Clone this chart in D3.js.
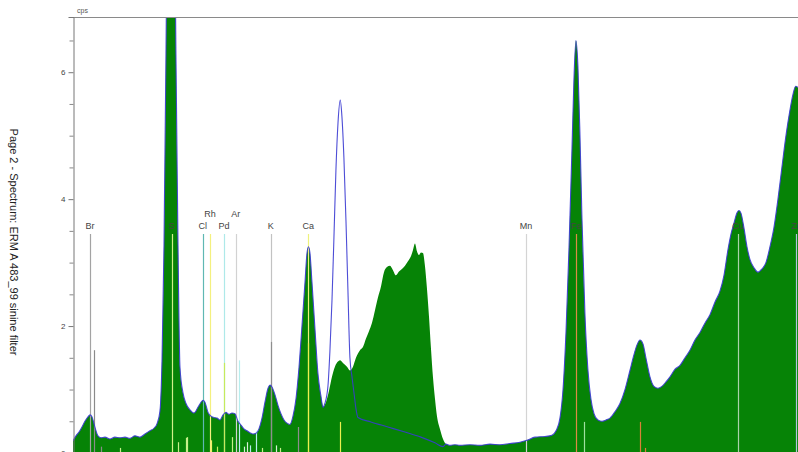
<!DOCTYPE html>
<html>
<head>
<meta charset="utf-8">
<script src="https://cdn.jsdelivr.net/npm/d3@7"></script>
<style>
  html, body { margin: 0; padding: 0; background: #fff; }
  svg { display: block; }
</style>
</head>
<body>
<svg id="chart" width="798" height="452"></svg>
<script>
// ---- spectrum data (energy in keV, intensity in cps) ----
const energy = [
  1.308, 1.338, 1.369, 1.399, 1.429, 1.460, 1.480, 1.500, 1.521, 1.541, 1.561, 1.591, 1.632, 1.683, 1.733,
  1.784, 1.835, 1.885, 1.936, 1.987, 2.037, 2.088, 2.128, 2.159, 2.189, 2.210, 2.230, 2.250, 2.270, 2.301,
  2.331, 2.351, 2.372, 2.392, 2.422, 2.453, 2.493, 2.534, 2.574, 2.605, 2.625, 2.645, 2.676, 2.706, 2.736,
  2.767, 2.797, 2.828, 2.858, 2.888, 2.919, 2.949, 2.980, 3.010, 3.040, 3.071, 3.101, 3.132, 3.162, 3.192,
  3.223, 3.253, 3.284, 3.304, 3.324, 3.354, 3.385, 3.415, 3.446, 3.476, 3.506, 3.537, 3.567, 3.598, 3.628,
  3.659, 3.679, 3.694, 3.709, 3.729, 3.760, 3.790, 3.820, 3.846, 3.871, 3.902, 3.932, 3.962, 3.993, 4.013,
  4.043, 4.084, 4.114, 4.145, 4.175, 4.216, 4.246, 4.276, 4.307, 4.337, 4.368, 4.398, 4.428, 4.459, 4.489,
  4.520, 4.550, 4.580, 4.611, 4.641, 4.672, 4.702, 4.732, 4.753, 4.773, 4.793, 4.813, 4.834, 4.854, 4.874,
  4.894, 4.915, 4.935, 4.955, 4.976, 4.996, 5.026, 5.057, 5.087, 5.128, 5.178, 5.229, 5.330, 5.431, 5.533,
  5.634, 5.735, 5.837, 5.908, 5.989, 6.091, 6.161, 6.202, 6.242, 6.273, 6.303, 6.333, 6.364, 6.384, 6.404,
  6.424, 6.445, 6.465, 6.495, 6.526, 6.556, 6.587, 6.627, 6.668, 6.708, 6.749, 6.799, 6.850, 6.901, 6.951,
  6.992, 7.022, 7.053, 7.083, 7.113, 7.154, 7.194, 7.235, 7.275, 7.316, 7.357, 7.408, 7.458, 7.509, 7.559,
  7.610, 7.661, 7.712, 7.762, 7.813, 7.863, 7.904, 7.944, 7.975, 8.005, 8.035, 8.056, 8.076, 8.106, 8.137,
  8.167, 8.208, 8.248, 8.289, 8.329, 8.370, 8.410, 8.451, 8.491, 8.532, 8.572, 8.603, 8.630, 8.654
];
const counts = [
  0.19, 0.27, 0.33, 0.41, 0.50, 0.57, 0.60, 0.57, 0.46, 0.35, 0.27, 0.24, 0.25, 0.22, 0.25,
  0.24, 0.25, 0.23, 0.27, 0.25, 0.30, 0.35, 0.39, 0.46, 0.66, 1.47, 3.27, 6.28, 9.84, 12.70,
  9.84, 6.28, 3.27, 1.35, 0.95, 0.78, 0.68, 0.63, 0.72, 0.80, 0.83, 0.80, 0.64, 0.58, 0.56,
  0.55, 0.52, 0.60, 0.64, 0.61, 0.63, 0.62, 0.50, 0.44, 0.38, 0.35, 0.32, 0.30, 0.31, 0.38,
  0.55, 0.80, 1.02, 1.07, 1.04, 0.92, 0.75, 0.62, 0.52, 0.47, 0.45, 0.58, 0.85, 1.35, 2.00,
  2.70, 3.15, 3.25, 3.15, 2.70, 1.95, 1.25, 0.90, 0.73, 0.80, 0.98, 1.20, 1.36, 1.44, 1.46,
  1.42, 1.36, 1.30, 1.36, 1.50, 1.62, 1.67, 1.80, 1.92, 2.05, 2.25, 2.45, 2.62, 2.85, 2.93,
  2.95, 2.88, 2.80, 2.86, 2.90, 2.95, 3.02, 3.10, 3.20, 3.30, 3.18, 3.12, 3.16, 3.15, 2.95,
  2.60, 2.15, 1.65, 1.20, 0.85, 0.58, 0.38, 0.22, 0.14, 0.12, 0.13, 0.12, 0.13, 0.12, 0.14,
  0.13, 0.15, 0.17, 0.20, 0.25, 0.26, 0.28, 0.35, 0.55, 1.00, 1.90, 3.20, 4.80, 5.90, 6.50,
  6.10, 5.00, 3.70, 2.20, 1.30, 0.85, 0.62, 0.52, 0.50, 0.52, 0.55, 0.65, 0.78, 1.00, 1.30,
  1.55, 1.70, 1.78, 1.72, 1.50, 1.20, 1.05, 1.02, 1.05, 1.12, 1.20, 1.32, 1.38, 1.50, 1.62,
  1.78, 1.90, 2.05, 2.18, 2.38, 2.55, 2.80, 3.20, 3.45, 3.62, 3.78, 3.82, 3.78, 3.55, 3.25,
  3.05, 2.92, 2.85, 2.90, 3.00, 3.25, 3.55, 4.00, 4.50, 5.00, 5.40, 5.65, 5.78, 5.76
];

// overlay spectrum: only the stretch where it departs from the filled one
const overlayEnergy = [
  3.820, 3.840, 3.860, 3.891, 3.911, 3.932, 3.952, 3.972, 3.993, 4.016, 4.033, 4.053, 4.074, 4.094,
  4.114, 4.135, 4.155, 4.175, 4.195, 4.327, 4.499, 4.671, 4.833, 4.975, 5.057
];
const overlayCounts = [
  0.90, 0.72, 0.78, 1.05, 1.60, 2.40, 3.40, 4.45, 5.20, 5.56, 5.30, 4.65, 3.65, 2.55,
  1.50, 1.20, 0.95, 0.70, 0.56, 0.49, 0.41, 0.33, 0.25, 0.16, 0.10
];

// element markers
const elements = ["Br", "S", "Cl", "Rh", "Pd", "Ar", "K", "Ca", "Mn", "Fe", "Cu", "Zn"];
const elementEnergy = [1.480, 2.307, 2.622, 2.697, 2.838, 2.957, 3.313, 3.691, 5.899, 6.404, 8.047, 8.638];

// emission-line sticks: energy, relative intensity (cps), parent element
const stickEnergy = [1.525, 1.591, 1.784, 2.372, 2.453, 2.464, 2.706, 2.767, 2.838, 2.919, 2.990,
  3.040, 3.071, 3.101, 3.162, 3.223, 3.313, 3.364, 3.405, 3.589, 3.691, 4.013, 6.490, 7.058, 7.100];
const stickCounts = [1.62, 0.10, 0.08, 0.17, 0.24, 0.25, 0.20, 0.10, 1.42, 0.25, 1.46,
  0.10, 0.17, 0.12, 0.35, 0.08, 1.75, 0.12, 0.08, 0.41, 1.73, 0.49, 0.49, 0.49, 0.08];
const stickElement = ["Br", "Br", "S", "S", "S", "S", "Rh", "Pd", "Pd", "S", "PdL",
  "Ar", "Ar", "PdL", "PdL", "S", "K", "Ar", "S", "K", "Ca", "Ca", "Mn", "Fe", "Fe"];

const yTicks = [0, 2, 4, 6];
const yMinorTicks = [0.5, 1, 1.5, 2.5, 3, 3.5, 4.5, 5, 5.5, 6.5];
const unitLabel = "cps";
const pageTitle = "Page 2 - Spectrum: ERM A 483_99 sinine filter";

// ---- styling ----
const markerColor = {
  Br: "#a3a3a3", S: "#d2f08a", Cl: "#5fb8b2", Rh: "#f4f07e", Pd: "#aee9e9", Ar: "#d2d2d2",
  K: "#c2c2c2", Ca: "#eef27c", Mn: "#d4d4d4", Fe: "#dd8a45", Cu: "#a9d3a9", Zn: "#b4c4de"
};
const stickColor = {
  Br: "#8a8a8a", S: "#c6f08a", Rh: "#f2ee6a", Pd: "#c6ea5c", PdL: "#b6eeee", Ar: "#d8f0d8",
  K: "#8e8e8e", Ca: "#ecf04e", Mn: "#9fe09f", Fe: "#d98038"
};
const fillGreen = "#068306";
const overlayBlue = "#3a3ad2";

const svg = d3.select("#chart");
const plot = { left: 73, right: 798, top: 17, bottom: 453 };

const x = d3.scaleLinear().domain([1.308, 8.654]).range([plot.left, plot.right]);
const y = d3.scaleLinear().domain([0, 6.87]).range([plot.bottom, plot.top]);

svg.append("defs").append("clipPath").attr("id", "plotClip")
  .append("rect")
  .attr("x", plot.left).attr("y", plot.top)
  .attr("width", plot.right - plot.left).attr("height", plot.bottom - plot.top);

const sample = energy.map((e, i) => ({ e, c: counts[i] }));
const overlayStart = overlayEnergy[0], overlayEnd = overlayEnergy[overlayEnergy.length - 1];
const overlay = sample.filter(d => d.e < overlayStart)
  .concat(overlayEnergy.map((e, i) => ({ e, c: overlayCounts[i] })))
  .concat(sample.filter(d => d.e > overlayEnd));

const g = svg.append("g").attr("clip-path", "url(#plotClip)");

// filled spectrum
g.append("path")
  .datum(sample)
  .attr("fill", fillGreen)
  .attr("d", d3.area().x(d => x(d.e)).y0(y(0)).y1(d => y(d.c)).curve(d3.curveMonotoneX));

// element label lines; crowded labels move up one row
const labelBaseY = 229, labelRaisedY = 217, lineTopY = 234;
const labelRows = [];
let lastLowX = -Infinity;
elementEnergy.forEach(e => {
  const px = x(e);
  if (px - lastLowX < 13) { labelRows.push(1); } else { labelRows.push(0); lastLowX = px; }
});

g.selectAll("line.marker")
  .data(elements)
  .join("line")
  .attr("class", "marker")
  .attr("x1", (d, i) => Math.round(x(elementEnergy[i])) + 0.5)
  .attr("x2", (d, i) => Math.round(x(elementEnergy[i])) + 0.5)
  .attr("y1", lineTopY)
  .attr("y2", y(0))
  .attr("stroke", d => markerColor[d])
  .attr("stroke-width", 1.2);

// emission-line sticks
g.selectAll("line.stick")
  .data(stickEnergy)
  .join("line")
  .attr("class", "stick")
  .attr("x1", d => Math.round(x(d)) + 0.5)
  .attr("x2", d => Math.round(x(d)) + 0.5)
  .attr("y1", (d, i) => y(stickCounts[i]))
  .attr("y2", y(0))
  .attr("stroke", (d, i) => stickColor[stickElement[i]])
  .attr("stroke-width", 1.2);

// overlay spectrum outline
g.append("path")
  .datum(overlay)
  .attr("fill", "none")
  .attr("stroke", overlayBlue)
  .attr("stroke-width", 1.1)
  .attr("stroke-opacity", 0.9)
  .attr("d", d3.line().x(d => x(d.e)).y(d => y(d.c)).curve(d3.curveMonotoneX));

// element labels
svg.selectAll("text.elem")
  .data(elements)
  .join("text")
  .attr("class", "elem")
  .attr("x", (d, i) => x(elementEnergy[i]))
  .attr("y", (d, i) => labelRows[i] ? labelRaisedY : labelBaseY)
  .attr("text-anchor", "middle")
  .attr("font-family", "Liberation Sans, Arial, sans-serif")
  .attr("font-size", 9)
  .attr("fill", "#444")
  .text(d => d);

// frame: top border
svg.append("line")
  .attr("x1", plot.left).attr("x2", plot.right)
  .attr("y1", plot.top + 0.5).attr("y2", plot.top + 0.5)
  .attr("stroke", "#8a8a8a").attr("stroke-width", 1);

// y axis
const yAxis = svg.append("g")
  .attr("transform", `translate(${plot.left + 0.5},0)`)
  .call(d3.axisLeft(y).tickValues(yTicks).tickSize(5).tickPadding(3).tickFormat(d3.format("d")));
yAxis.select(".domain").attr("stroke", "#777");
yAxis.selectAll(".tick line").attr("stroke", "#777");
yAxis.selectAll(".tick text")
  .attr("font-family", "Liberation Sans, Arial, sans-serif")
  .attr("font-size", 8)
  .attr("fill", "#444");

const yMinor = svg.append("g")
  .attr("transform", `translate(${plot.left + 0.5},0)`)
  .call(d3.axisLeft(y).tickValues(yMinorTicks).tickSize(4).tickFormat(""));
yMinor.select(".domain").remove();
yMinor.selectAll(".tick line").attr("stroke", "#888");

// unit label
svg.append("text")
  .attr("x", plot.left + 4).attr("y", plot.top - 4)
  .attr("font-family", "Liberation Sans, Arial, sans-serif")
  .attr("font-size", 7)
  .attr("fill", "#555")
  .text(unitLabel);

// page title, rotated along the left edge
svg.append("text")
  .attr("transform", "translate(10,242) rotate(90)")
  .attr("text-anchor", "middle")
  .attr("font-family", "Liberation Sans, Arial, sans-serif")
  .attr("font-size", 11)
  .attr("fill", "#222")
  .text(pageTitle);
</script>
</body>
</html>
